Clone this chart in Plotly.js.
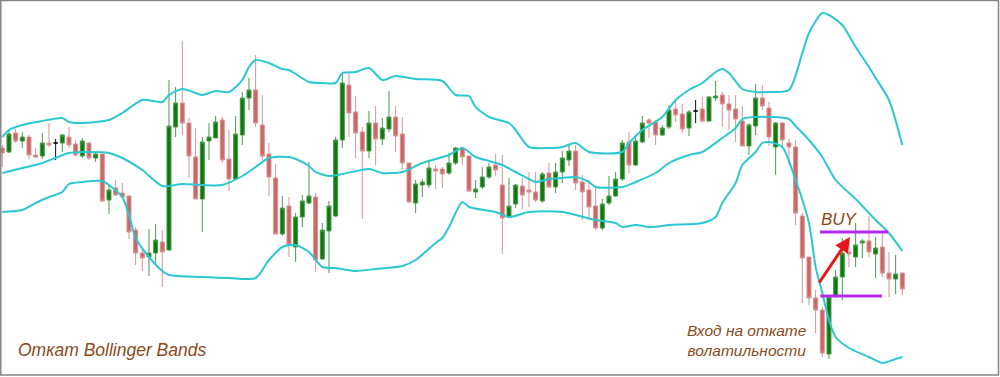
<!DOCTYPE html>
<html><head><meta charset="utf-8">
<script src="https://cdn.plot.ly/plotly-3.0.1.min.js"></script>
<style>html,body{margin:0;padding:0;background:#fff;overflow:hidden}#chart{width:1000px;height:377px}</style>
</head><body><div id="chart"></div>
<script>
// OHLC values (arbitrary price units)
const open=[252,248,267,259,263,245,244,257,257,257, 263,256,244,257,242,246,200,212,207,204, 170,147,143,147,158,150,273,297,277,243, 201,259,262,280,241,221,265,302,310,275, 246,222,166,194,153,183,197,203,141,169, 184,260,315,288,268,249,277,261,271,283, 266,237,197,215,215,231,231,227,237,252, 244,208,213,223,235,215,183,196,214,210, 208,199,227,213,228,240,249,218,210,194, 172,197,204,221,258,235,258,280,278,265, 273,291,286,272,289,291,279,302,305,296, 291,279,254,274,302,292,253,277,257,253, 184,143,102,90,46,104,123,148,143,157, 159,146,153,127,121,127];
const high=[255,270,271,268,265,252,267,277,261,266, 273,260,262,258,247,246,215,220,217,204, 173,152,171,176,170,320,313,359,282,272, 263,277,284,283,270,284,308,322,345,305, 257,236,204,203,187,205,238,207,177,199, 263,327,327,304,273,289,294,282,309,294, 283,237,220,221,240,235,233,247,253,253, 244,220,233,237,246,245,222,216,222,228, 228,228,237,237,249,255,255,225,220,213, 201,224,228,260,268,265,284,282,280,275, 295,300,296,290,300,303,304,319,308,305, 305,294,277,316,315,298,278,278,261,260, 187,143,110,93,105,130,162,160,177,161, 184,163,167,148,145,127];
const low=[233,247,257,252,241,242,241,253,240,248, 252,243,242,240,238,198,186,204,203,161, 135,129,124,137,113,149,263,265,222,201, 168,240,262,237,209,221,255,290,273,240, 204,166,164,143,138,173,196,128,140,127, 183,252,263,242,181,242,235,255,268,248, 230,197,187,203,212,211,212,225,235,235, 208,202,211,221,224,146,182,192,191,193, 198,197,212,207,217,234,210,180,182,170, 170,195,203,219,227,234,257,262,255,264, 271,278,267,264,277,277,278,299,273,270, 258,254,245,265,290,254,225,252,235,175, 97,95,67,43,41,102,100,133,133,142, 143,122,123,103,106,105];
const close=[247,266,259,263,245,243,257,255,257,265, 255,245,259,242,246,199,210,205,203,168, 147,142,147,160,148,274,297,277,244,201, 258,263,278,240,221,266,302,310,277,244, 223,166,192,155,183,199,204,140,170,194, 260,317,287,267,249,277,261,272,283,264, 237,198,216,218,232,229,226,237,252,243, 209,211,223,233,230,182,194,215,205,208, 200,226,213,228,242,249,217,208,193,172, 196,204,221,257,235,259,277,277,265,272, 290,285,271,288,289,279,303,304,296,290, 281,254,275,302,294,263,277,260,253,187, 142,102,90,47,103,123,147,146,155,159, 148,152,127,121,126,111];

// Bollinger bands, sampled at candle indices
const upperX=[0,1,3,6,9,10,12,16,18,21,24,25,27,29,30,32,34,36,37,38,40,42,43,46,48,50,51,53,55,57,59,62,66,68,70,71,73,76,77,79,82,84,86,88,93,94,96,99,101,103,105,107,108,109,111,113,115,118,120,121,123,124,126,128,130,131,133,135];
const upperY=[263,270,275,279,282,278,277,280,287,300,298,305,311,307,305,309,308,320,333,340,337,331,330,318,317,317,327,328,332,320,324,321,319,305,304,293,283,277,270,253,252,253,257,248,248,257,270,283,300,310,317,328,331,327,311,308,308,310,347,367,387,385,375,353,333,322,300,255];
const middleX=[0,3,6,10,12,16,18,21,24,27,30,33,36,38,40,43,45,46,47,49,51,55,57,60,63,67,69,71,73,75,77,79,80,82,84,86,88,89,93,95,98,100,103,105,108,110,111,113,115,118,119,121,123,125,128,130,131,133,135];
const middleY=[227,232,237,247,248,247,242,230,214,216,215,215,224,233,242,243,238,234,228,224,226,231,227,228,237,245,252,243,239,235,228,221,218,221,222,223,218,213,213,218,227,237,245,248,262,272,281,283,283,281,274,260,243,220,201,187,180,167,149];
const lowerX=[0,3,5,7,9,10,12,15,16,18,19,20,22,24,25,30,34,38,40,42,44,46,48,50,53,56,60,62,65,66,67,69,70,74,76,79,84,89,92,93,95,97,99,100,105,107,108,110,111,113,114,115,117,119,121,122,123,124,125,127,130,132,134,135];
const lowerY=[188,190,197,203,208,216,218,219,215,203,185,162,143,129,125,123,122,122,140,153,155,148,133,132,129,131,134,140,157,162,173,198,193,188,183,188,188,180,177,173,175,173,174,175,177,183,197,217,235,248,257,258,253,220,177,133,107,80,63,52,43,37,41,43];

// Trade levels
const buyLevel=168, stopLevel=104;

const candleX=open.map((_,i)=>i);
const isDoji=open.map((o,i)=>o===close[i]);
const keep=(arr,cond)=>arr.map((v,i)=>cond(i)?v:null);
const notDoji=i=>!isDoji[i], doji=i=>isDoji[i];

const traces=[
 {type:'candlestick',x:candleX,open:keep(open,notDoji),high:keep(high,notDoji),low:keep(low,notDoji),close:keep(close,notDoji),
  increasing:{line:{color:'#4a9a4a',width:1},fillcolor:'#0e7a0e'},
  decreasing:{line:{color:'#d69393',width:1},fillcolor:'#cc6666'},
  whiskerwidth:0,hoverinfo:'skip',showlegend:false},
 {type:'candlestick',x:candleX,open:keep(open,doji),high:keep(high,doji),low:keep(low,doji),close:keep(close,doji),
  increasing:{line:{color:'#111',width:1},fillcolor:'#111'},
  decreasing:{line:{color:'#111',width:1},fillcolor:'#111'},
  whiskerwidth:0,hoverinfo:'skip',showlegend:false},
 {type:'scatter',mode:'lines',x:upperX,y:upperY,line:{color:'#2cc8d2',width:2,shape:'spline',smoothing:0.7},hoverinfo:'skip',showlegend:false},
 {type:'scatter',mode:'lines',x:middleX,y:middleY,line:{color:'#2cc8d2',width:2,shape:'spline',smoothing:0.7},hoverinfo:'skip',showlegend:false},
 {type:'scatter',mode:'lines',x:lowerX,y:lowerY,line:{color:'#2cc8d2',width:2,shape:'spline',smoothing:0.7},hoverinfo:'skip',showlegend:false}
];

const brown='#8c4a20';
const font='Liberation Sans, Arial, sans-serif';
const layout={
 width:1000,height:377,margin:{l:0,r:0,t:0,b:0},
 paper_bgcolor:'#fff',plot_bgcolor:'#fff',
 boxgap:0.2,boxgroupgap:0.25,
 xaxis:{range:[-0.345,149.655],visible:false,rangeslider:{visible:false},fixedrange:true},
 yaxis:{range:[23,400],visible:false,fixedrange:true},
 shapes:[
  {type:'line',xref:'x',yref:'y',x0:122.65,x1:132.85,y0:buyLevel,y1:buyLevel,line:{color:'#b429ec',width:3}},
  {type:'line',xref:'x',yref:'y',x0:122.7,x1:131.95,y0:stopLevel,y1:stopLevel,line:{color:'#b429ec',width:3}},
  {type:'rect',xref:'paper',yref:'paper',x0:0.0008,x1:0.9985,y0:0.0053,y1:0.9985,line:{color:'#858585',width:1.5},fillcolor:'rgba(0,0,0,0)'}
 ],
 annotations:[
  {x:127.15,y:163,ax:122.4,ay:116,axref:'x',ayref:'y',xref:'x',yref:'y',text:'',showarrow:true,arrowhead:2,arrowsize:1,arrowwidth:3,arrowcolor:'#e8161c',standoff:0,startstandoff:0},
  {x:125.6,y:181,xref:'x',yref:'y',text:'<i>BUY</i>',showarrow:false,font:{family:font,size:17,color:brown}},
  {x:111.7,y:60,xref:'x',yref:'y',text:'<i>Вход на откате<br>волатильности</i>',showarrow:false,align:'center',font:{family:font,size:15.5,color:brown}},
  {x:2.05,y:50,xref:'x',yref:'y',xanchor:'left',text:'<i>Откат Bollinger Bands</i>',showarrow:false,font:{family:font,size:17.5,color:brown}}
 ]
};
Plotly.newPlot('chart',traces,layout,{staticPlot:true,displayModeBar:false});
</script></body></html>
